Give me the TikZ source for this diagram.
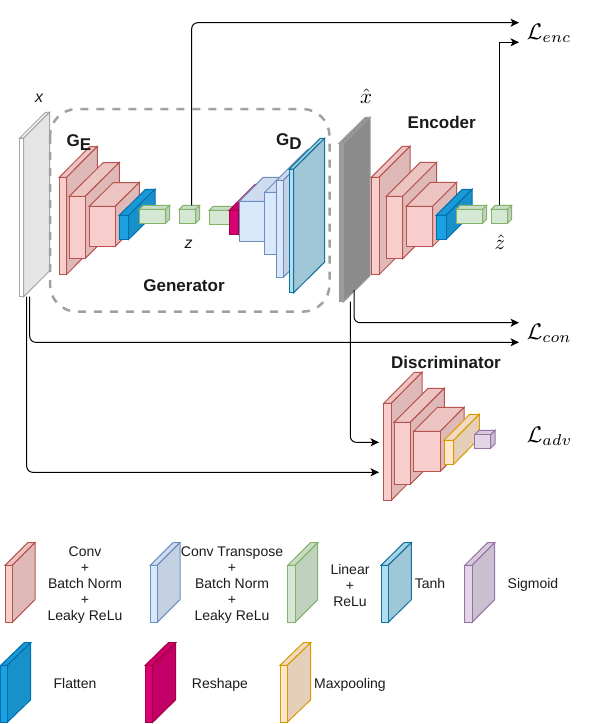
\documentclass[tikz,border=0pt]{standalone}
\usepackage{fontspec}
\setmainfont{Liberation Sans}
\usetikzlibrary{arrows.meta,calc}
\definecolor{txt}{HTML}{1A1A1A}
\definecolor{cvF}{HTML}{F8CECC}\definecolor{cvS}{HTML}{B85450}
\definecolor{blF}{HTML}{DAE8FC}\definecolor{blS}{HTML}{6C8EBF}
\definecolor{grF}{HTML}{D5E8D4}\definecolor{grS}{HTML}{82B366}
\definecolor{flF}{HTML}{1BA1E2}\definecolor{flS}{HTML}{006EAF}
\definecolor{rsF}{HTML}{D80073}\definecolor{rsS}{HTML}{A50040}
\definecolor{mpF}{HTML}{FFE6CC}\definecolor{mpS}{HTML}{D79B00}
\definecolor{sgF}{HTML}{E1D5E7}\definecolor{sgS}{HTML}{9673A6}
\definecolor{thF}{HTML}{B1DDF0}\definecolor{thS}{HTML}{10739E}
\definecolor{whF}{HTML}{FFFFFF}\definecolor{whS}{HTML}{A6A6A6}
\definecolor{dkF}{HTML}{9B9B9B}\definecolor{dkS}{HTML}{9B9B9B}
% #1 name, #2 x1, #3 y1, #4 x2, #5 y2, #6 back x, #7 back y, #8 colour prefix
\newcommand{\cub}[8]{%
  \pgfmathsetmacro{\cdx}{#6-#4}\pgfmathsetmacro{\cdy}{#3-#7}%
  \pgfmathsetmacro{\cax}{#2+\cdx}\pgfmathsetmacro{\cby}{#5-\cdy}%
  \filldraw[cubeline,draw=#8S,fill=#8F!95!black] (#2,#3) -- (\cax,#7) -- (#6,#7) -- (#4,#3) -- cycle;
  \filldraw[cubeline,draw=#8S,fill=#8F!90!black] (#4,#3) -- (#6,#7) -- (#6,\cby) -- (#4,#5) -- cycle;
  \filldraw[cubeline,draw=#8S,fill=#8F] (#2,#3) rectangle (#4,#5);
  \coordinate (#1) at ($(#2,#3)!0.5!(#6,#7)$);
  \coordinate (#1-bot) at (#2,#5);
}
\tikzset{
  cubeline/.style={line width=1pt,line join=miter},
  conn/.style={line width=1pt,draw=black,rounded corners=6pt,-{Stealth[length=8.5pt,width=8pt,inset=2.2pt]}},
  connsharp/.style={conn,rounded corners=0pt},
  lbl/.style={text=txt,font=\fontsize{14}{16}\selectfont,align=center,inner sep=0pt},
  lblone/.style={lbl,anchor=base},
  head/.style={text=txt,font=\fontsize{17}{20}\selectfont\bfseries,inner sep=0pt},
  loss/.style={scale=2.25,anchor=base west,inner sep=0pt},
  hatl/.style={scale=2.1,inner sep=0pt},
  varl/.style={text=txt,font=\fontsize{16}{18}\selectfont\itshape,inner sep=0pt},
  genbox/.style={draw=black!37,line width=2.5pt,dash pattern=on 8pt off 8pt,rounded corners=27pt}
}
\begin{document}
\begin{tikzpicture}[x=1pt,y=-1pt]
\useasboundingbox (0,0) rectangle (589,724);
% input slab and generator frame
\cub{xin}{19.7}{138}{23.7}{296.7}{49.5}{112.3}{wh}
\draw[genbox] (50,109) rectangle (329.5,311.7);
% generator encoder part
\cub{ge1}{59.3}{177.3}{66.7}{274.3}{97.3}{146.5}{cv}
\cub{ge2}{69.3}{196.3}{85.3}{258.3}{119.3}{162.5}{cv}
\cub{ge3}{89.3}{206.3}{115.3}{246.3}{139.3}{182.5}{cv}
\cub{gfl}{119.3}{215.3}{128.7}{239.3}{155}{189.3}{fl}
\cub{gli}{139.3}{209.3}{165.7}{223.3}{169.7}{205.3}{gr}
\cub{zbox}{179.3}{209.3}{195.7}{223.3}{199.7}{205.3}{gr}
% generator decoder part
\cub{dli}{209.3}{210.3}{233.7}{224.3}{237.7}{206.3}{gr}
\cub{drs}{229.3}{210.3}{238.7}{234.3}{264.7}{184.3}{rs}
\cub{dc1}{239.3}{201.3}{264.7}{241.3}{288.7}{177.3}{bl}
\cub{dc2}{264.7}{192.3}{276.7}{254.3}{310.7}{158.3}{bl}
\cub{dc3}{276.7}{180.3}{283.3}{277.3}{314.3}{149.3}{bl}
\cub{dth}{289.3}{169}{293.7}{292.7}{324.7}{138.3}{th}
% reconstructed slab
\cub{xhat}{339}{143.3}{343.7}{301.7}{370}{117.3}{dk}
% encoder
\cub{en1}{371.3}{177.3}{379}{274.7}{410}{146.3}{cv}
\cub{en2}{386.3}{196.3}{402.7}{258.7}{436.7}{162.3}{cv}
\cub{en3}{406.3}{206.3}{432.7}{246.3}{456.7}{182.3}{cv}
\cub{enf}{436.3}{215.3}{446}{239.3}{472}{189.3}{fl}
\cub{enl}{456.3}{209.3}{482.7}{223.3}{486.7}{205.3}{gr}
\cub{zhb}{491.3}{209.3}{507.7}{223.3}{511.7}{205.3}{gr}
% discriminator
\cub{di1}{383.7}{403.3}{391.3}{500.3}{422}{372.3}{cv}
\cub{di2}{394}{422.3}{410.3}{484.3}{444.3}{388.3}{cv}
\cub{di3}{413.7}{431.3}{440.3}{471.3}{464}{407.3}{cv}
\cub{dmp}{444}{440.3}{453.7}{464.3}{479.3}{414.3}{mp}
\cub{dsg}{474.7}{434.7}{490.7}{448.3}{495}{430.3}{sg}
% legend
\cub{lg1}{5}{565.3}{12.3}{622.3}{35}{542.7}{cv}
\cub{lg2}{150.3}{565.3}{157.3}{622.3}{180}{542.7}{bl}
\cub{lg3}{287.7}{565.3}{295}{622.3}{317.7}{542.7}{gr}
\cub{lg4}{381}{565.3}{388.3}{622.3}{411.3}{542.7}{th}
\cub{lg5}{464.7}{565.3}{472}{622.3}{494.7}{542.7}{sg}
\cub{lg6}{0.7}{665.3}{7.3}{722.3}{30.7}{642.7}{fl}
\cub{lg7}{145.3}{665.3}{152.7}{722.3}{175.7}{642.7}{rs}
\cub{lg8}{280}{665.3}{287.3}{722.3}{310.7}{642.7}{mp}
% connector end points
\coordinate (zOut) at (191.7,205.3);
\coordinate (zhOut) at (499.5,205.3);
\coordinate (xOutA) at (29.7,296.7);
\coordinate (xOutB) at (26.7,296.7);
\coordinate (xhOutA) at (354,290);
\coordinate (xhOutB) at (350.3,301.7);
\coordinate (encA) at (519,22.7);
\coordinate (encB) at (519,42.3);
\coordinate (conA) at (519,322.7);
\coordinate (conB) at (519,342.3);
\coordinate (advA) at (379,442.3);
\coordinate (advB) at (379,472.3);
\draw[conn] (zOut) |- (encA);
\draw[connsharp] (zhOut) |- (encB);
\draw[conn] (xhOutA) |- (conA);
\draw[conn] (xOutA) |- (conB);
\draw[conn] (xhOutB) |- (advA);
\draw[conn] (xOutB) |- (advB);
% labels
\node[varl] (xlab) at (39,98) {x};
\node[varl] (zlab) at (188.7,244) {z};
\node[hatl] (xhlab) at (366,96.5) {$\hat{x}$};
\node[hatl] (zhlab) at (500,242.5) {$\hat{z}$};
\node[head,anchor=base west] (gelab) at (66.5,146.5) {G\raisebox{-3.5pt}{E}};
\node[head,anchor=base west] (gdlab) at (276,145.7) {G\raisebox{-4pt}{D}};
\node[head] (genlab) at (184,286) {Generator};
\node[head] (enclab) at (441.7,122.3) {Encoder};
\node[head] (dislab) at (446,362) {Discriminator};
\node[loss] (lenc) at (526.5,39.2) {$\mathcal{L}_{enc}$};
\node[loss] (lcon) at (526.5,339.2) {$\mathcal{L}_{con}$};
\node[loss] (ladv) at (526.5,442.5) {$\mathcal{L}_{adv}$};
\node[lbl] (t1) at (85,585) {Conv\\+\\Batch Norm\\+\\Leaky ReLu};
\node[lbl] (t2) at (232,585) {Conv Transpose\\+\\Batch Norm\\+\\Leaky ReLu};
\node[lbl] (t3) at (350,585) {Linear\\+\\ReLu};
\node[lblone] (t4) at (430,588) {Tanh};
\node[lblone] (t5) at (533,588) {Sigmoid};
\node[lblone] (t6) at (75,688) {Flatten};
\node[lblone] (t7) at (220,688) {Reshape};
\node[lblone] (t8) at (350,688) {Maxpooling};
\end{tikzpicture}
\end{document}
